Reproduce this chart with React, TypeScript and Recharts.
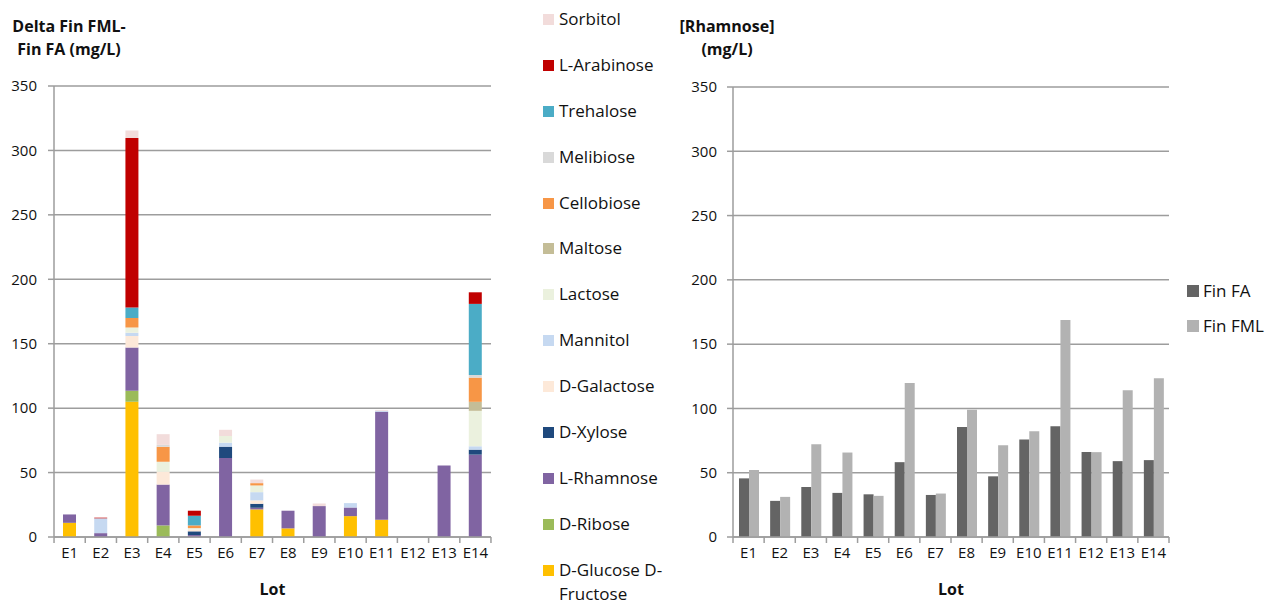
import React from "react";
import {
  Bar,
  BarChart,
  CartesianGrid,
  Legend,
  XAxis,
  YAxis,
} from "recharts";

const lots = ["E1", "E2", "E3", "E4", "E5", "E6", "E7", "E8", "E9", "E10", "E11", "E12", "E13", "E14"];
const yTicks = [0, 50, 100, 150, 200, 250, 300, 350];

// left chart: delta Fin FML - Fin FA per sugar (mg/L), stacked bottom to top
const glucoseFructose = [11, 0, 105, 0, 0, 0, 21.4, 6.7, 0, 16.2, 13.4, 0, 0, 0];
const ribose = [0, 0, 8.5, 9, 0, 0, 0, 0, 0, 0, 0, 0, 0, 0];
const rhamnose = [6.5, 3, 33.5, 31.7, 1.5, 61.3, 1.3, 13.7, 24, 6.7, 83.8, 0, 55.4, 63.9];
const xylose = [0, 0, 0, 0, 2.9, 8.8, 3.1, 0, 0, 0, 0, 0, 0, 3.9];
const galactose = [0, 0, 9, 10, 1.5, 0, 2.6, 0, 0, 0, 0, 0, 0, 0];
const mannitol = [0, 11.5, 2.6, 0, 0, 3.1, 6.4, 0, 0, 3.4, 0.8, 0, 0, 2.6];
const lactose = [0, 0, 4, 7.7, 1, 5.2, 5.2, 0, 0, 0, 0, 0, 0, 27.5];
const maltose = [0, 0, 0, 0, 0, 0, 0, 0, 0, 0, 0, 0, 0, 7];
const cellobiose = [0, 0, 7.3, 11.6, 2.1, 0, 1.8, 0, 0, 0, 0, 0, 0, 18.8];
const melibiose = [0, 0, 0, 1.5, 0, 0, 0, 0, 0, 0, 0, 0, 0, 2.1];
const trehalose = [0, 0, 8.2, 0, 7.5, 0, 0, 0, 0, 0, 0, 0, 0, 55.1];
const arabinose = [0, 0.5, 131.5, 0, 3.9, 0, 0, 0, 0, 0, 0, 0, 0, 9];
const sorbitol = [0, 0, 5.9, 8.3, 0, 4.8, 2.8, 0, 2, 0, 0.6, 0, 0, 0];

// right chart: rhamnose concentration (mg/L)
const finFA = [45.6, 28.1, 38.9, 34.3, 33.2, 58.2, 32.7, 85.6, 47.2, 75.8, 86.1, 66.2, 59, 59.8];
const finFML = [52.1, 31.2, 72.2, 65.7, 32, 119.8, 33.8, 99, 71.4, 82.2, 168.8, 66, 114.2, 123.5];

const sugars = [
  { key: "glucose", name: "D-Glucose D-Fructose", color: "#FFC000", values: glucoseFructose },
  { key: "ribose", name: "D-Ribose", color: "#9BBB59", values: ribose },
  { key: "rhamnose", name: "L-Rhamnose", color: "#8064A2", values: rhamnose },
  { key: "xylose", name: "D-Xylose", color: "#1F497D", values: xylose },
  { key: "galactose", name: "D-Galactose", color: "#FDE9D9", values: galactose },
  { key: "mannitol", name: "Mannitol", color: "#C6D9F1", values: mannitol },
  { key: "lactose", name: "Lactose", color: "#EBF1DE", values: lactose },
  { key: "maltose", name: "Maltose", color: "#C4BD97", values: maltose },
  { key: "cellobiose", name: "Cellobiose", color: "#F79646", values: cellobiose },
  { key: "melibiose", name: "Melibiose", color: "#D9D9D9", values: melibiose },
  { key: "trehalose", name: "Trehalose", color: "#4BACC6", values: trehalose },
  { key: "arabinose", name: "L-Arabinose", color: "#C00000", values: arabinose },
  { key: "sorbitol", name: "Sorbitol", color: "#F2DCDB", values: sorbitol },
];

const deltaData = lots.map((lot, i) => {
  const row: Record<string, string | number> = { lot };
  sugars.forEach((s) => (row[s.key] = s.values[i]));
  return row;
});

const rhamnoseData = lots.map((lot, i) => ({ lot, fa: finFA[i], fml: finFML[i] }));

const FONT = "'Open Sans', sans-serif";
const GRID = "#9d9d9d";
const BAND = 436 / lots.length;

function LotTick(props: any) {
  const { x, y, payload, index } = props;
  const last = index === lots.length - 1;
  return (
    <g>
      <line x1={x - BAND / 2} x2={x - BAND / 2} y1={y} y2={y + 6} stroke={GRID} strokeWidth={1.5} />
      {last && (
        <line x1={x + BAND / 2} x2={x + BAND / 2} y1={y} y2={y + 6} stroke={GRID} strokeWidth={1.5} />
      )}
      <text x={x} y={y + 10} dy="0.71em" textAnchor="middle" fontSize={15} fontFamily={FONT} fill="#111">
        {payload.value}
      </text>
    </g>
  );
}

const yTickStyle = { fontSize: 15, fontFamily: FONT, fill: "#111" };
const lotLabel = {
  value: "Lot",
  position: "insideBottom" as const,
  offset: 6,
  style: { fontSize: 16, fontWeight: 700, fontFamily: FONT, fill: "#111" },
};

function SugarLegend() {
  const items = [...sugars].reverse();
  return (
    <div style={{ fontFamily: FONT, fontSize: 17, color: "#111", height: 600 }}>
      {items.map((s) => (
        <div key={s.key} style={{ display: "flex", alignItems: "flex-start", height: 45.9 }}>
          <span style={{ flex: "none", marginTop: 7, width: 11, height: 11, background: s.color }} />
          <div style={{ marginLeft: 5, width: 118, lineHeight: "24px" }}>{s.name}</div>
        </div>
      ))}
    </div>
  );
}

function FinLegend() {
  const items = [
    { name: "Fin FA", color: "#646464" },
    { name: "Fin FML", color: "#b2b2b2" },
  ];
  return (
    <div style={{ fontFamily: FONT, fontSize: 17, color: "#111", height: 70 }}>
      {items.map((s) => (
        <div key={s.name} style={{ display: "flex", alignItems: "flex-start", height: 35 }}>
          <span style={{ flex: "none", marginTop: 6, width: 12, height: 12, background: s.color }} />
          <div style={{ marginLeft: 4, lineHeight: "24px", whiteSpace: "nowrap" }}>{s.name}</div>
        </div>
      ))}
    </div>
  );
}

const titleStyle: React.CSSProperties = {
  position: "absolute",
  fontFamily: FONT,
  fontWeight: 700,
  fontSize: 16,
  lineHeight: "23px",
  textAlign: "center",
  color: "#111",
};

export default function App() {
  return (
    <div style={{ position: "absolute", left: 0, top: 0, width: 1268, height: 601, background: "#fff" }}>
      <div style={{ ...titleStyle, left: 0, top: 15, width: 138 }}>
        Delta Fin FML-
        <br />
        Fin FA (mg/L)
      </div>
      <div style={{ ...titleStyle, left: 667, top: 15, width: 120 }}>
        [Rhamnose]
        <br />
        (mg/L)
      </div>

      <div style={{ position: "absolute", left: 0, top: 0 }}>
        <BarChart
          width={700}
          height={601}
          data={deltaData}
          margin={{ top: 86, right: 209, left: 0, bottom: 0 }}
          barCategoryGap="29%"
        >
          <CartesianGrid vertical={false} stroke={GRID} strokeWidth={1.5} />
          <XAxis
            dataKey="lot"
            height={64}
            interval={0}
            tickLine={false}
            tickSize={0}
            tickMargin={0}
            tick={<LotTick />}
            axisLine={{ stroke: GRID, strokeWidth: 1.5 }}
            label={lotLabel}
          />
          <YAxis
            width={54}
            domain={[0, 350]}
            ticks={yTicks}
            interval={0}
            tickSize={6}
            tickMargin={11}
            tickLine={{ stroke: GRID, strokeWidth: 1.5 }}
            axisLine={{ stroke: GRID, strokeWidth: 1.5 }}
            tick={yTickStyle}
          />
          <Legend
            layout="vertical"
            align="center"
            verticalAlign="middle"
            wrapperStyle={{ left: 543, top: 7, width: 150 }}
            content={() => <SugarLegend />}
          />
          {sugars.map((s) => (
            <Bar
              key={s.key}
              dataKey={s.key}
              name={s.name}
              stackId="delta"
              fill={s.color}
              barSize={13}
              isAnimationActive={false}
            />
          ))}
        </BarChart>
      </div>

      <div style={{ position: "absolute", left: 660, top: 0 }}>
        <BarChart
          width={608}
          height={601}
          data={rhamnoseData}
          margin={{ top: 87, right: 99, left: 0, bottom: 0 }}
          barGap={0}
        >
          <CartesianGrid vertical={false} stroke={GRID} strokeWidth={1.5} />
          <XAxis
            dataKey="lot"
            height={64}
            interval={0}
            tickLine={false}
            tickSize={0}
            tickMargin={0}
            tick={<LotTick />}
            axisLine={{ stroke: GRID, strokeWidth: 1.5 }}
            label={lotLabel}
          />
          <YAxis
            width={73}
            domain={[0, 350]}
            ticks={yTicks}
            interval={0}
            tickSize={6}
            tickMargin={10}
            tickLine={{ stroke: GRID, strokeWidth: 1.5 }}
            axisLine={{ stroke: GRID, strokeWidth: 1.5 }}
            tick={yTickStyle}
          />
          <Legend
            layout="vertical"
            align="center"
            verticalAlign="middle"
            wrapperStyle={{ left: 527, top: 279, width: 90 }}
            content={() => <FinLegend />}
          />
          <Bar dataKey="fa" name="Fin FA" fill="#646464" barSize={10} isAnimationActive={false} />
          <Bar dataKey="fml" name="Fin FML" fill="#b2b2b2" barSize={10} isAnimationActive={false} />
        </BarChart>
      </div>
    </div>
  );
}
